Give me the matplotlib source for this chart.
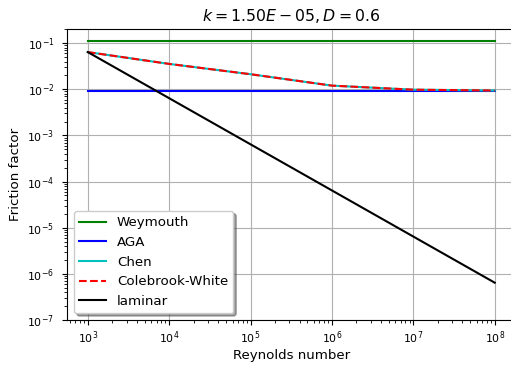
import matplotlib
matplotlib.use('Agg')
import matplotlib.pyplot as plt

reynolds = [1e3, 1e4, 1e5, 1e6, 1e7, 1e8]
weymouth = [0.1115, 0.1115, 0.1115, 0.1115, 0.1115, 0.1115]
aga = [0.0093, 0.0093, 0.0093, 0.0093, 0.0093, 0.0093]
chen = [0.064, 0.0355, 0.0212, 0.0120, 0.0098, 0.0094]
colebrook = [0.064, 0.0355, 0.0212, 0.0120, 0.0098, 0.0094]
laminar = [0.064, 0.0064, 6.4e-4, 6.4e-5, 6.4e-6, 6.4e-7]

fig = plt.figure(figsize=(5.11, 3.66), dpi=100)
ax = fig.add_axes([0.132, 0.126, 0.876, 0.794])

ax.loglog(reynolds, weymouth, 'g', label='Weymouth')
ax.loglog(reynolds, aga, 'b', label='AGA')
ax.loglog(reynolds, chen, 'c', label='Chen')
ax.loglog(reynolds, colebrook, 'r--', label='Colebrook-White')
ax.loglog(reynolds, laminar, 'k', label='laminar')

ax.set_ylim(1e-7, 0.2)
ax.grid(True, which='major')
ax.tick_params(labelsize=7.9)
ax.tick_params(axis='y', which='major', pad=6)
ax.set_xlabel('Reynolds number', fontsize=9.6, labelpad=2)
ax.set_ylabel('Friction factor', fontsize=9.6)
ax.set_title(r'$k = 1.50E-05, D = 0.6$', fontsize=11.3)
ax.legend(loc='lower left', shadow=True, fontsize=9.6)

fig.savefig('out.png', dpi=100)
